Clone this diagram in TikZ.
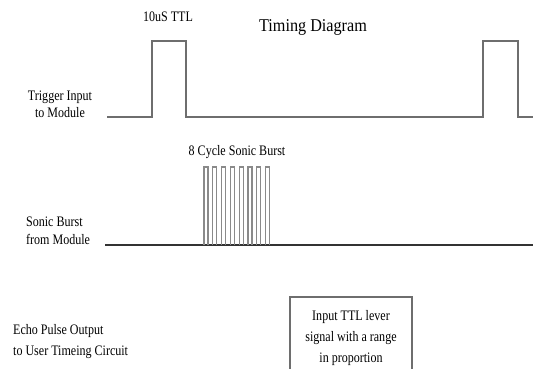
\documentclass[tikz,border=0pt]{standalone}
\usepackage{fontspec}
\setmainfont{Liberation Serif}
\definecolor{sig}{HTML}{6E6E6E}
\definecolor{burst}{HTML}{8A8A8A}
\tikzset{
  wave/.style={draw=sig,line width=1.3pt},
  lbl/.style={inner sep=0pt,xscale=.83,font=\fontsize{14.5}{17}\selectfont},
}
\begin{document}
\begin{tikzpicture}[x=1pt,y=-1pt]
  \useasboundingbox (0,0) rectangle (533,369);
  \clip (0,0) rectangle (533,369);
  % title and labels
  \node[inner sep=0pt,xscale=.9,font=\fontsize{18}{20}\selectfont] (title) at (313,27) {Timing Diagram};
  \node[lbl] (ttl) at (168,17) {10uS TTL};
  \node[lbl,align=center] (trig) at (60,104) {Trigger Input\\to Module};
  \node[lbl,align=left,anchor=west,font=\fontsize{14.5}{18}\selectfont] (sonic) at (26,231) {Sonic Burst\\from Module};
  \node[lbl,align=left,anchor=west,font=\fontsize{14.5}{21}\selectfont] (echo) at (13,342) {Echo Pulse Output\\to User Timeing Circuit};
  \node[lbl] (cyc) at (237,152) {8 Cycle Sonic Burst};
  % trigger input
  \draw[wave] (107,117) -- (152,117) -- (152,41) -- (186,41) -- (186,117)
    -- (483,117) -- (483,41) -- (518,41) -- (518,117) -- (533,117);
  % sonic burst
  \draw[line width=1.2pt,draw=black!80] (105,245) -- (533,245);
  \foreach \i in {0,...,7}
    \draw[draw=burst,line width=1.2pt] ({204+8.8*\i},245) -- ++(0,-78) -- ++(4,0) -- ++(0,78);
  % echo box
  \draw[draw=sig,line width=1.2pt] (290,369) |- (412,297) -- (412,369);
  \node[lbl,align=center,font=\fontsize{14.5}{21}\selectfont] (range) at (351,338) {Input TTL lever\\signal with a range\\in proportion};
\end{tikzpicture}
\end{document}
